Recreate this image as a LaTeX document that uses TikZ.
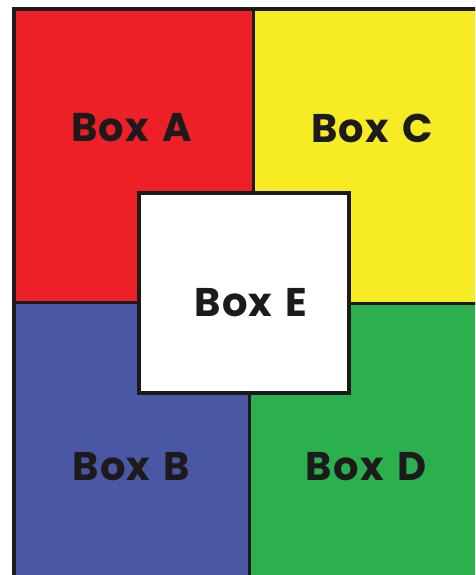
\documentclass[tikz,border=0pt]{standalone}
\usepackage{fontspec}
\setmainfont{Poppins}[BoldFont={* Bold}, LetterSpace=3, WordSpace=1.4]
\usepackage{tikz}
\usetikzlibrary{positioning}
\definecolor{boxred}{HTML}{ED2027}
\definecolor{boxyellow}{HTML}{F7EC23}
\definecolor{boxblue}{HTML}{4A57A5}
\definecolor{boxgreen}{HTML}{2CB04E}
\definecolor{ink}{HTML}{1C1A1B}

\begin{document}
\begin{tikzpicture}[x=1pt, y=-1pt,
	   q/.style={draw=ink, line width=3pt, anchor=north west, inner sep=0pt, outer sep=0pt},
	   lbl/.style={text=ink, font=\fontsize{40}{40}\selectfont\bfseries, inner sep=0pt}]
	  \useasboundingbox (0,0) rectangle (475,575);
	  \clip (0,0) rectangle (475,575);
	  % four quarters
	  \node[q, fill=boxred, minimum width=239pt, minimum height=292.5pt] (qa) at (14,9.5) {};
	  \node[q, fill=boxyellow, minimum width=240pt, minimum height=293.5pt] (qc) at (253,9.5) {};
	  \node[q, fill=boxblue, minimum width=235pt, minimum height=290pt] (qb) at (14,302) {};
	  \node[q, fill=boxgreen, minimum width=244pt, minimum height=290pt] (qd) at (249,303) {};
	  % outer frame
	  \draw[ink, line width=4pt] (14,600) |- (500,9.5);
	  % middle box
	  \node[q, fill=white, line width=4pt, minimum width=210pt, minimum height=200pt] (qe) at (139,193) {};
	  \node[lbl] (la) at (131.5,128) {Box A};
	  \node[lbl] (lc) at (372,128) {Box C};
	  \node[lbl] (lb) at (131.5,467) {Box B};
	  \node[lbl] (ld) at (366,467) {Box D};
	  \node[lbl] (le) at (251,302.5) {Box E};
	\end{tikzpicture}
\end{document}
